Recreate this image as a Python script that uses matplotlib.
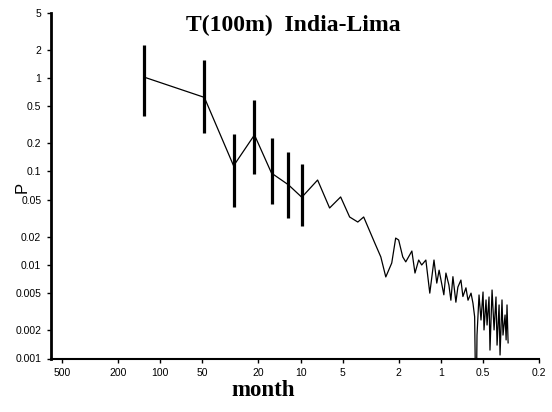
import matplotlib
matplotlib.use("Agg")
import matplotlib.pyplot as plt
from matplotlib.ticker import FixedLocator, FixedFormatter, NullLocator

# ---- data ----
period = [130, 48.5, 30, 21.3, 16.1, 12.2, 9.8, 7.56, 6.21, 5.18, 4.47, 3.91,
          3.55, 2.96, 2.68, 2.47, 2.24, 2.10, 2.0, 1.87, 1.78, 1.61, 1.53,
          1.44, 1.37, 1.28, 1.20, 1.12, 1.07, 1.03, 0.953, 0.921, 0.877,
          0.849, 0.821, 0.782, 0.757, 0.720, 0.697, 0.663, 0.641, 0.610,
          0.591, 0.575, 0.562, 0.553, 0.535, 0.518, 0.501, 0.493, 0.477,
          0.469, 0.454, 0.447, 0.432, 0.418, 0.405, 0.398, 0.385, 0.379,
          0.367, 0.361, 0.349, 0.343, 0.338, 0.332]
power = [1.02, 0.62, 0.115, 0.246, 0.096, 0.072, 0.053, 0.081, 0.0407, 0.0534,
         0.0326, 0.0288, 0.0326, 0.0172, 0.0122, 0.00745, 0.0105, 0.0194,
         0.0185, 0.0122, 0.0108, 0.0141, 0.0082, 0.0113, 0.0100, 0.0113,
         0.0050, 0.0113, 0.0064, 0.0088, 0.0048, 0.0082, 0.0061, 0.0042,
         0.0075, 0.0040, 0.0058, 0.0069, 0.0046, 0.0057, 0.0042, 0.0050,
         0.0039, 0.0028, 0.0002, 0.00178, 0.00478, 0.00258, 0.00514, 0.00202,
         0.00423, 0.00228, 0.00455, 0.00123, 0.0054, 0.00202, 0.00455,
         0.00139, 0.00374, 0.00109, 0.00423, 0.00178, 0.00292, 0.00158,
         0.00374, 0.00147]

err_period = [130, 48.5, 30, 21.3, 16.1, 12.2, 9.8]
err_center = [1.02, 0.62, 0.115, 0.246, 0.096, 0.072, 0.053]
err_upper = [2.25, 1.56, 0.25, 0.58, 0.23, 0.16, 0.12]
err_lower = [0.39, 0.26, 0.042, 0.094, 0.045, 0.032, 0.026]

y_ticks = [0.001, 0.002, 0.005, 0.01, 0.02, 0.05, 0.1, 0.2, 0.5, 1, 2, 5]
y_labels = ["0.001", "0.002", "0.005", "0.01", "0.02", "0.05", "0.1", "0.2",
            "0.5", "1", "2", "5"]
x_ticks = [500, 200, 100, 50, 20, 10, 5, 2, 1, 0.5, 0.2]
x_labels = ["500", "200", "100", "50", "20", "10", "5", "2", "1", "0.5", "0.2"]

title = "T(100m)  India-Lima"
xlabel = "month"
ylabel = "P"

# ---- figure ----
W, H = 552, 412
fig = plt.figure(figsize=(W / 100, H / 100), dpi=100)
ax = fig.add_axes([51 / W, 1 - 358.5 / H, (539 - 51) / W, (358.5 - 12.6) / H])

ax.plot(period, power, color="black", lw=0.9, clip_on=True)
ax.vlines(err_period, err_lower, err_upper, color="black", lw=2.3)

ax.set_xscale("log")
ax.set_yscale("log")
ax.set_xlim(600, 0.2)
ax.set_ylim(0.001, 5)

ax.xaxis.set_major_locator(FixedLocator(x_ticks))
ax.xaxis.set_major_formatter(FixedFormatter(x_labels))
ax.xaxis.set_minor_locator(NullLocator())
ax.yaxis.set_major_locator(FixedLocator(y_ticks))
ax.yaxis.set_major_formatter(FixedFormatter(y_labels))
ax.yaxis.set_minor_locator(NullLocator())

for s in ["top", "right"]:
    ax.spines[s].set_visible(False)
ax.spines["left"].set_linewidth(2.0)
ax.spines["bottom"].set_linewidth(1.5)

ax.tick_params(axis="both", direction="out", length=3, width=1.0,
               labelsize=7.5, pad=4)
for lab in ax.get_xticklabels() + ax.get_yticklabels():
    lab.set_family("Liberation Sans")

fig.text(293 / W, 1 - 25 / H, title, ha="center", va="center",
         fontsize=17, fontweight="bold", family="Liberation Serif")
fig.text(263 / W, 1 - 396 / H, xlabel, ha="center", va="baseline",
         fontsize=16.5, fontweight="bold", family="Liberation Serif")
fig.text(22 / W, 1 - 187 / H, ylabel, ha="center", va="center", rotation=90,
         fontsize=12, family="Liberation Sans")

fig.savefig("out.png", dpi=100)
